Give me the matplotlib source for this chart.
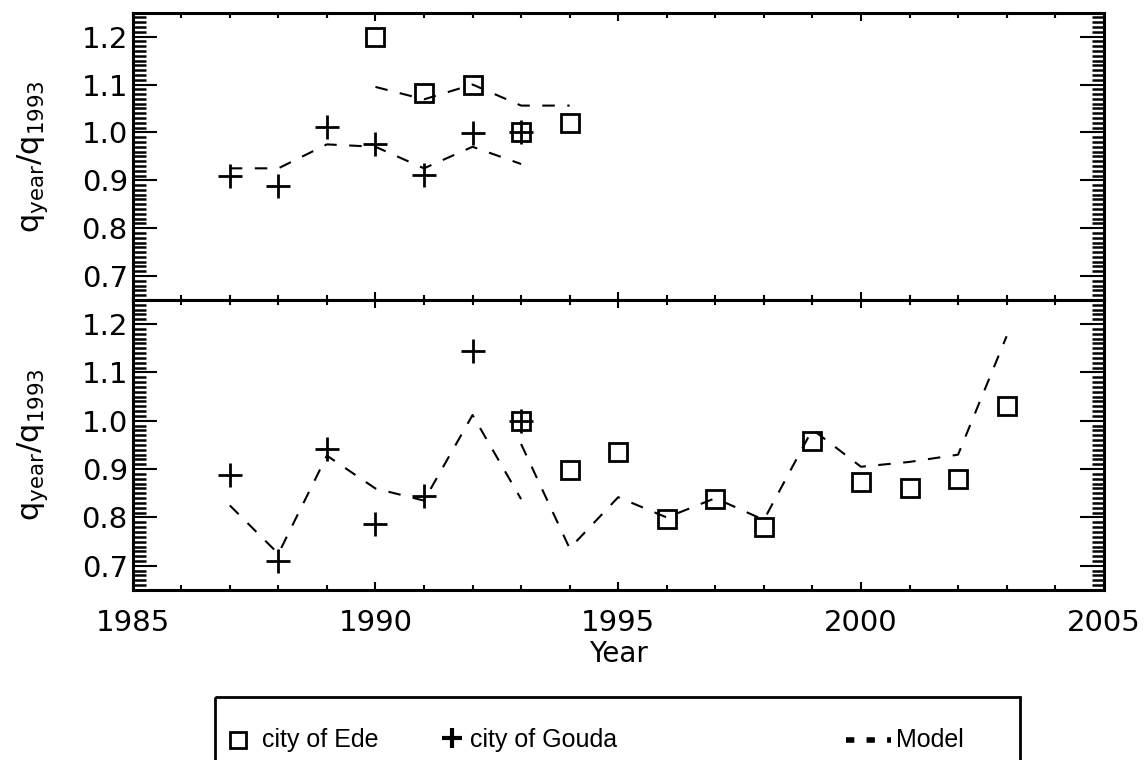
import matplotlib
matplotlib.use("Agg")
import matplotlib.pyplot as plt
from matplotlib.patches import Rectangle
from matplotlib.ticker import MultipleLocator

# top panel
ede_years_top = [1990, 1991, 1992, 1993, 1994]
ede_top = [1.200, 1.083, 1.099, 1.000, 1.019]
ede_model_top = [1.095, 1.069, 1.100, 1.056, 1.056]

gouda_years_top = [1987, 1988, 1989, 1990, 1991, 1992, 1993]
gouda_top = [0.908, 0.889, 1.011, 0.976, 0.911, 0.999, 1.000]
gouda_model_top = [0.925, 0.925, 0.975, 0.970, 0.925, 0.970, 0.934]

# bottom panel
ede_years_bot = [1993, 1994, 1995, 1996, 1997, 1998, 1999, 2000, 2001, 2002, 2003]
ede_bot = [1.000, 0.898, 0.936, 0.797, 0.838, 0.781, 0.959, 0.873, 0.861, 0.879, 1.031]
ede_model_bot = [0.952, 0.736, 0.842, 0.800, 0.840, 0.795, 0.982, 0.905, 0.915, 0.930, 1.175]

gouda_years_bot = [1987, 1988, 1989, 1990, 1991, 1992, 1993]
gouda_bot = [0.887, 0.711, 0.942, 0.786, 0.845, 1.145, 1.000]
gouda_model_bot = [0.825, 0.725, 0.928, 0.860, 0.835, 1.012, 0.838]

y_ticks = [0.7, 0.8, 0.9, 1.0, 1.1, 1.2]
x_ticks = [1985, 1990, 1995, 2000, 2005]

W, H = 1147, 760
fig = plt.figure(figsize=(W / 100, H / 100), dpi=100)

left, right = 132.7 / W, 1103.7 / W
ax_top = fig.add_axes([left, 1 - 300 / H, right - left, (300 - 12.7) / H])
ax_bot = fig.add_axes([left, 1 - 590 / H, right - left, 290 / H])

dash = (0, (6, 6))
sq = dict(marker="s", ms=13, mfc="none", mec="black", mew=2, ls="none")
pl = dict(marker="+", ms=17, mec="black", mew=2, ls="none")


def style(ax, show_x):
    ax.set_xlim(1985, 2005)
    ax.set_ylim(0.65, 1.25)
    ax.set_xticks(x_ticks)
    ax.set_yticks(y_ticks)
    ax.xaxis.set_minor_locator(MultipleLocator(1))
    ax.yaxis.set_minor_locator(MultipleLocator(0.01))
    ax.tick_params(which="both", direction="in", top=True, right=True,
                   width=1.5, labelsize=21)
    ax.tick_params(axis="y", which="major", length=17)
    ax.tick_params(axis="y", which="minor", length=9, width=1.8)
    ax.tick_params(axis="x", which="major", length=6, pad=14)
    ax.tick_params(axis="x", which="minor", length=3.5)
    ax.set_yticklabels([f"{v:.1f}" for v in y_ticks])
    if not show_x:
        ax.set_xticklabels([])
    for s in ax.spines.values():
        s.set_linewidth(2.2)
    ax.set_ylabel(r"$\mathregular{q_{year}/q_{1993}}$", fontsize=22, labelpad=12)


# top
ax_top.plot(gouda_years_top, gouda_model_top, color="black", lw=1.5, ls=dash)
ax_top.plot(ede_years_top, ede_model_top, color="black", lw=1.5, ls=dash)
ax_top.plot(ede_years_top, ede_top, **sq)
ax_top.plot(gouda_years_top, gouda_top, **pl)
style(ax_top, False)

# bottom
ax_bot.plot(gouda_years_bot, gouda_model_bot, color="black", lw=1.5, ls=dash)
ax_bot.plot(ede_years_bot, ede_model_bot, color="black", lw=1.5, ls=dash)
ax_bot.plot(ede_years_bot, ede_bot, **sq)
ax_bot.plot(gouda_years_bot, gouda_bot, **pl)
style(ax_bot, True)
ax_bot.set_xlabel("Year", fontsize=20, labelpad=2)

ax_top.yaxis.set_label_coords(-0.085, 0.5)
ax_bot.yaxis.set_label_coords(-0.085, 0.5)

# legend box drawn by hand below the plots (bottom edge runs off the figure)
lax = fig.add_axes([0, 0, 1, 1])
lax.set_xlim(0, W)
lax.set_ylim(H, 0)
lax.axis("off")
lax.add_patch(Rectangle((215, 697), 805, 120, fill=False, lw=2, ec="black"))
leg_font = ["Liberation Sans Narrow", "Liberation Sans", "DejaVu Sans"]
lax.plot([238], [740], marker="s", ms=11, mfc="none", mec="black", mew=2)
lax.text(262, 740, "city of Ede", fontsize=18, va="center", family=leg_font)
lax.plot([452], [738], marker="+", ms=14, mec="black", mew=3)
lax.text(470, 740, "city of Gouda", fontsize=18, va="center", family=leg_font)
lax.plot([846, 891], [740, 740], color="black", lw=4, ls=(0, (1.5, 2.2)))
lax.text(896, 740, "Model", fontsize=18, va="center", family=leg_font)

fig.savefig("out.png", dpi=100)
